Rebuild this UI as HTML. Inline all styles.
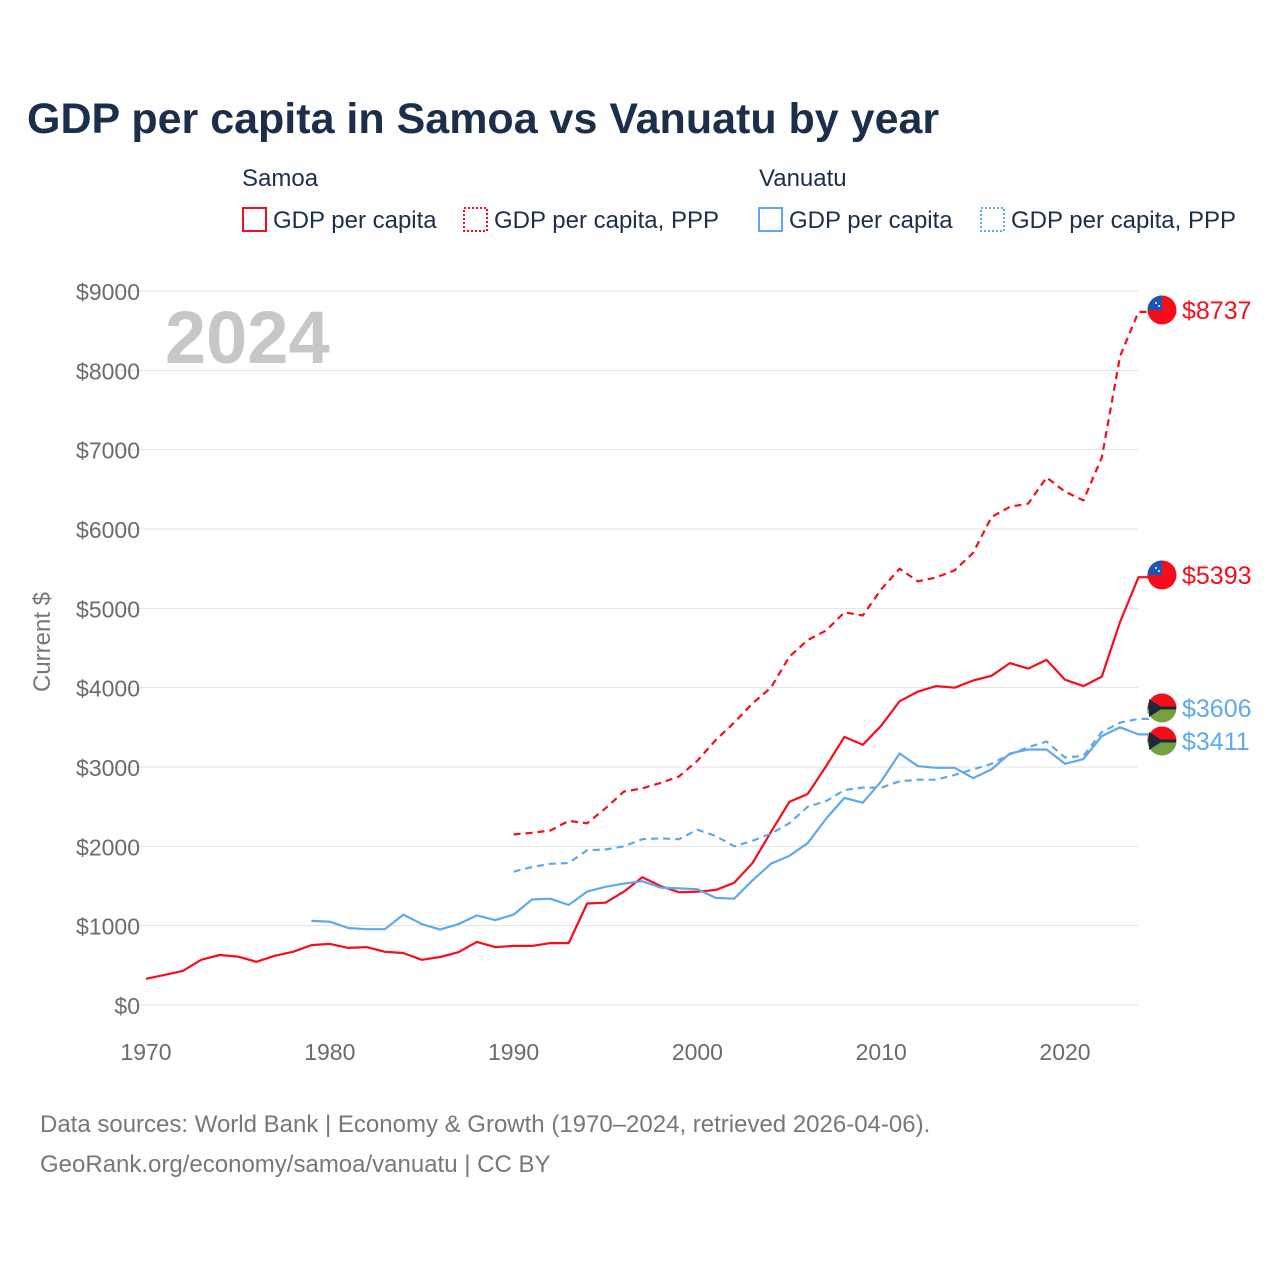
<!DOCTYPE html>
<html><head><meta charset="utf-8">
<style>
html,body{margin:0;padding:0;background:#fff;}
svg{display:block;font-family:"Liberation Sans",sans-serif;}
</style></head>
<body>
<svg id="chart" width="1280" height="1280" viewBox="0 0 1280 1280">
<text x="27" y="133" font-size="43" font-weight="bold" fill="#1b2f4b">GDP per capita in Samoa vs Vanuatu by year</text>
<g font-size="24" fill="#1b2f4b">
<text x="242" y="186">Samoa</text>
<text x="759" y="186">Vanuatu</text>
<rect x="243" y="208" width="23" height="23" fill="none" stroke="#f70d1a" stroke-width="2"/>
<text x="273" y="228">GDP per capita</text>
<rect x="464" y="208" width="23" height="23" fill="none" stroke="#f70d1a" stroke-width="2" stroke-dasharray="2,2"/>
<text x="494" y="228">GDP per capita, PPP</text>
<rect x="759" y="208" width="23" height="23" fill="none" stroke="#5ea9ee" stroke-width="2"/>
<text x="789" y="228">GDP per capita</text>
<rect x="981" y="208" width="23" height="23" fill="none" stroke="#5ea9ee" stroke-width="2" stroke-dasharray="2,2"/>
<text x="1011" y="228">GDP per capita, PPP</text>
</g>
<text x="165" y="363" font-size="74" font-weight="bold" fill="#c6c7c9">2024</text>
<text transform="translate(50,642) rotate(-90)" text-anchor="middle" font-size="24" fill="#777">Current $</text>
<g id="grid"></g><g id="yticks"></g><g id="xticks"></g><g id="series"></g><g id="labels"></g>
<text x="40" y="1132" font-size="24" fill="#777">Data sources: World Bank | Economy &amp; Growth (1970–2024, retrieved 2026-04-06).</text>
<text x="40" y="1172" font-size="24" fill="#777">GeoRank.org/economy/samoa/vanuatu | CC BY</text>
</svg>
<script>
const yTicks=[0,1000,2000,3000,4000,5000,6000,7000,8000,9000];
const xTicks=[1970,1980,1990,2000,2010,2020];
const samoaGdp=[330,380,430,570,630,610,545,620,670,755,770,720,730,670,655,570,605,665,795,730,745,745,780,780,1280,1290,1430,1610,1500,1420,1430,1450,1540,1790,2180,2560,2660,3010,3380,3280,3520,3830,3950,4020,4000,4090,4150,4310,4240,4350,4100,4020,4140,4830,5393];
const samoaPpp=[2150,2170,2200,2320,2290,2480,2690,2730,2800,2880,3080,3340,3560,3800,4000,4390,4600,4720,4950,4910,5240,5500,5340,5390,5480,5700,6150,6280,6320,6650,6470,6360,6900,8180,8737];
const vanGdp=[1060,1050,970,955,955,1140,1020,950,1020,1130,1070,1140,1330,1340,1260,1430,1490,1530,1560,1480,1470,1460,1350,1340,1570,1780,1880,2040,2350,2610,2550,2820,3170,3010,2990,2990,2860,2970,3170,3220,3220,3040,3100,3390,3500,3411];
const vanPpp=[1680,1740,1780,1790,1950,1960,2000,2090,2100,2090,2210,2130,2000,2070,2160,2290,2500,2570,2710,2740,2740,2820,2840,2840,2900,2970,3040,3160,3250,3320,3120,3140,3440,3560,3606];
const NS='http://www.w3.org/2000/svg';
const X=y=>146+(y-1970)*(1065-146)/50;
const Y=v=>1005-v*(1005-291)/9000;
function mk(tag,attrs,parent){const e=document.createElementNS(NS,tag);for(const k in attrs)e.setAttribute(k,attrs[k]);document.getElementById(parent).appendChild(e);return e;}
yTicks.forEach(t=>{
 const l=mk('line',{x1:118,x2:1138,y1:Y(t),y2:Y(t),stroke:'#e3e3e3','stroke-width':1},'grid');
 
 
 const tx=mk('text',{x:140,y:Y(t)+9,'text-anchor':'end','font-size':23,fill:'#6b6b6b'},'yticks');
 tx.textContent='$'+t;
 
 
});
xTicks.forEach(t=>{
 const tx=mk('text',{x:X(t),y:1060,'text-anchor':'middle','font-size':23,fill:'#6b6b6b'},'xticks');
 tx.textContent=t;
 
 
});
function line(vals,start,color,dash,name,labelY,flag){
 const pts=vals.map((v,i)=>X(start+i).toFixed(1)+','+Y(v).toFixed(1));
 const last=vals[vals.length-1];
 pts.push((X(2024)+10)+','+Y(last).toFixed(1));
 const p=mk('polyline',{points:pts.join(' ')+' '+(X(2024)+10)+','+labelY,fill:'none',stroke:color,'stroke-width':2.2,'stroke-linejoin':'round','stroke-dasharray':dash?'7,5':'none'},'series');
 
 
 const g=mk('g',{},'labels');
 
 
 const cx=1162,cy=labelY;
 if(flag==='ws'){
  g.innerHTML=`<circle cx="${cx}" cy="${cy}" r="14.5" fill="#f70d1a"/><path d="M${cx-14.5},${cy} A14.5,14.5 0 0 1 ${cx},${cy-14.5} L${cx},${cy} Z" fill="#1a56b8"/><circle cx="${cx-6}" cy="${cy-7}" r="1" fill="#fff"/><circle cx="${cx-3}" cy="${cy-4}" r="1" fill="#fff"/>`;
 } else {
  g.innerHTML=`<circle cx="${cx}" cy="${cy}" r="14.5" fill="#74a140"/><path d="M${cx-14.5},${cy} A14.5,14.5 0 0 1 ${cx+14.5},${cy} Z" fill="#f70d1a"/><rect x="${cx-14}" y="${cy-1.5}" width="28" height="3" fill="#1b2a3a"/><path d="M${cx-13},${cy-9} L${cx+1},${cy} L${cx-13},${cy+9} Z" fill="#1b2a3a"/>`;
 }
 const t=mk('text',{x:1182,y:labelY+9,'font-size':25,fill:color},'labels');
 t.textContent='$'+last;
 
 
}
line(samoaPpp,1990,'#f70d1a',true,'samoa-ppp-line',310,'ws');
line(samoaGdp,1970,'#f70d1a',false,'samoa-gdp-line',575,'ws');
line(vanPpp,1990,'#5ea9ee',true,'vanuatu-ppp-line',708,'vu');
line(vanGdp,1979,'#5ea9ee',false,'vanuatu-gdp-line',741,'vu');
</script>
</body></html>
